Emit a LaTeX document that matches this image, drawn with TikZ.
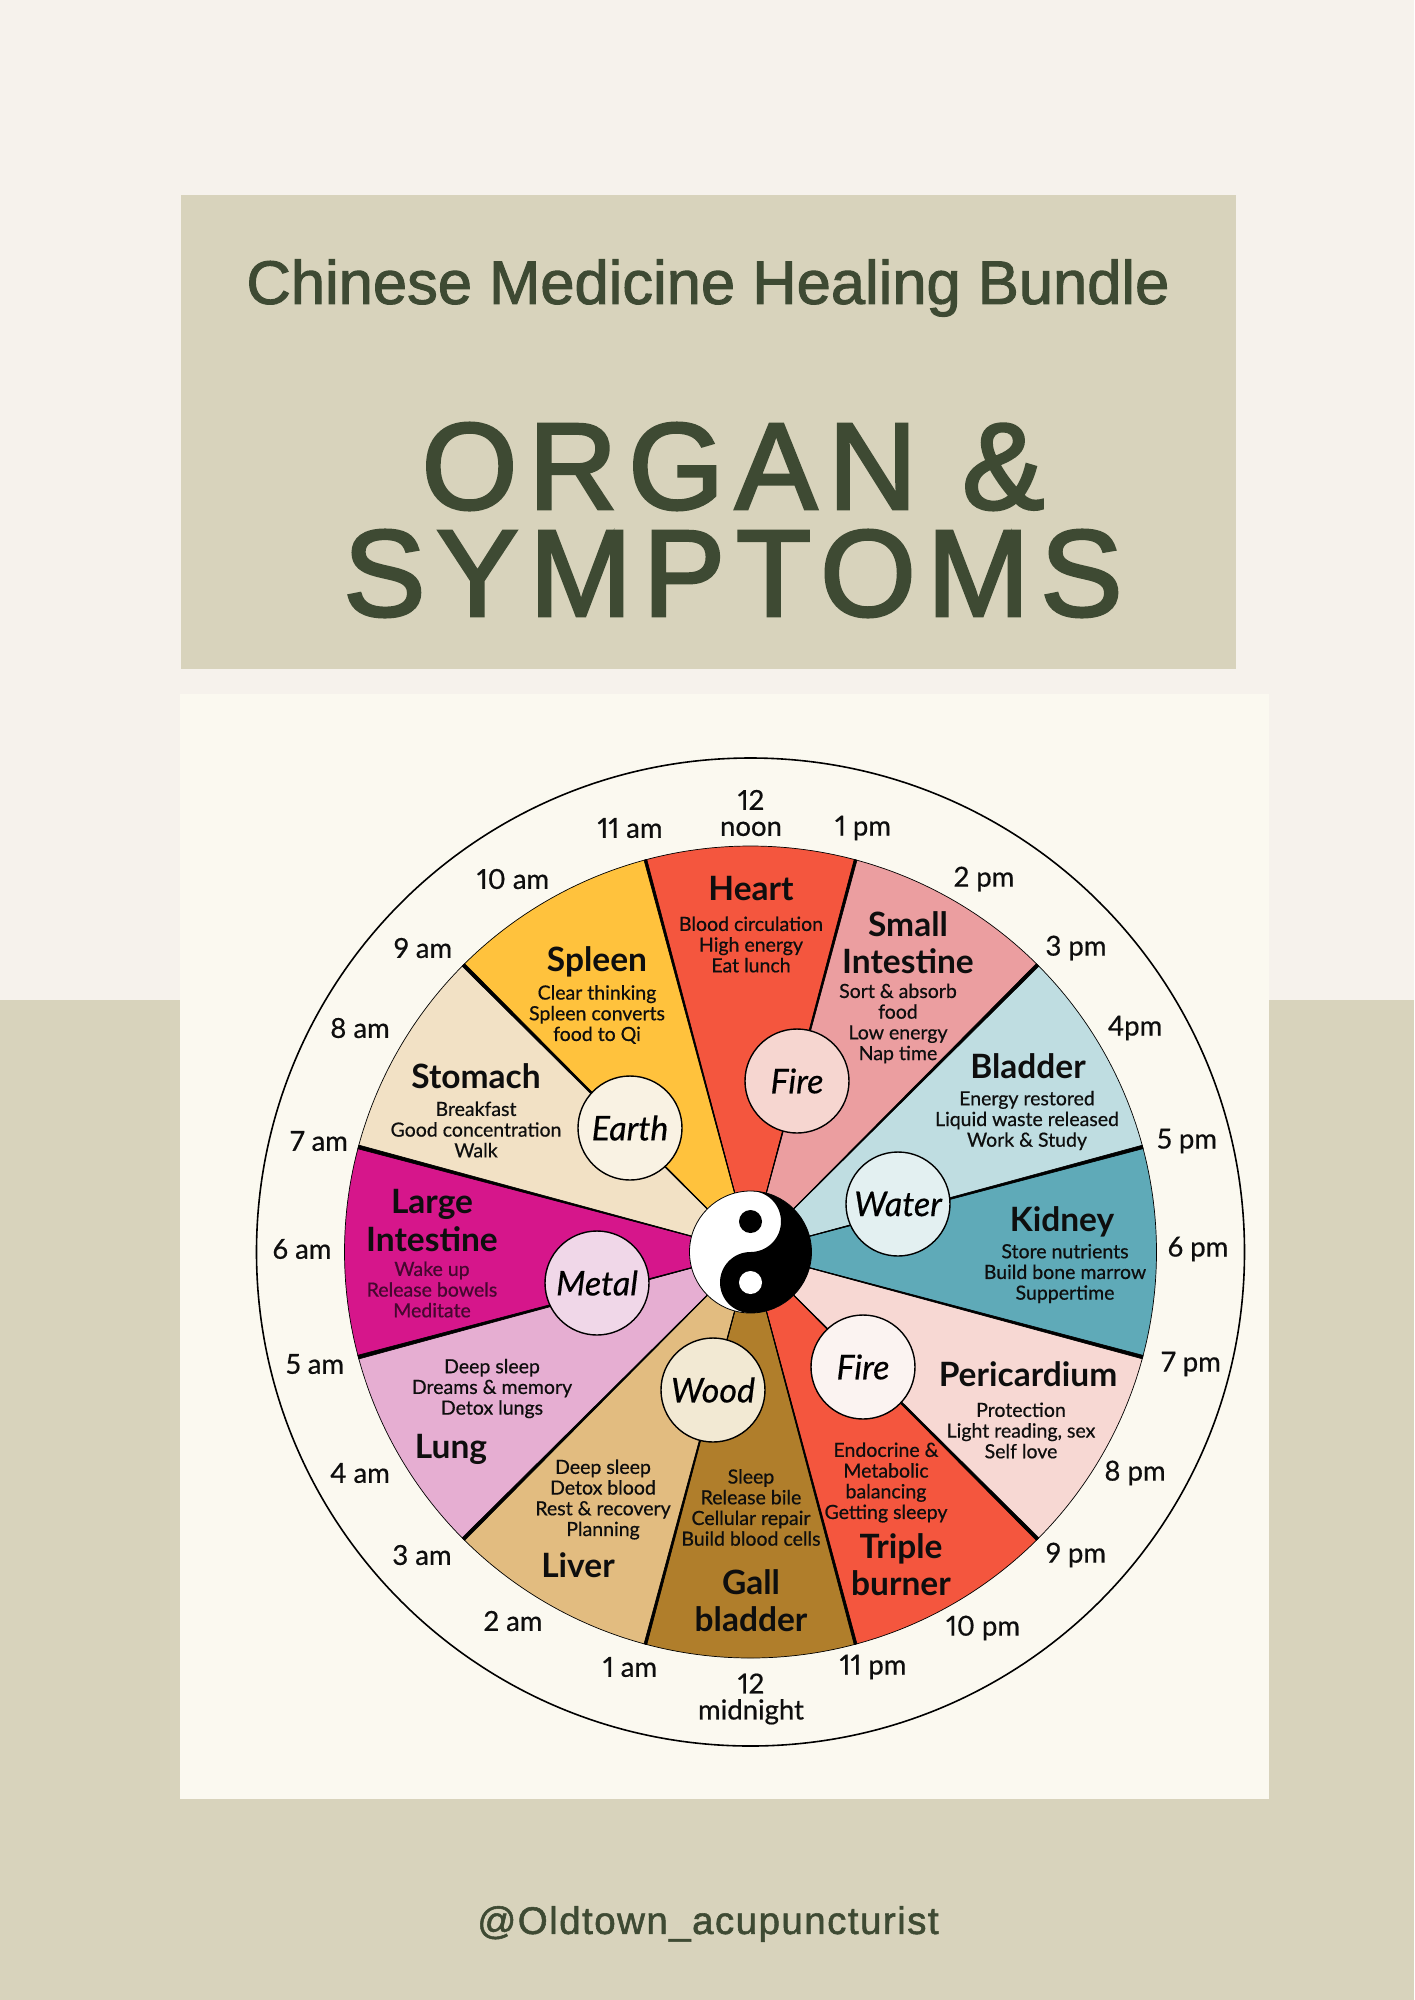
\documentclass[tikz,border=0pt]{standalone}
\usepackage{fontspec}
\setmainfont[Numbers=Proportional]{Lato}
\newfontfamily\headfont{Liberation Sans}
\definecolor{pagetop}{HTML}{F6F2EC}
\definecolor{pagelow}{HTML}{D8D3BC}
\definecolor{panel}{HTML}{FBF9F0}
\definecolor{olive}{HTML}{3E4A33}
\definecolor{cHeart}{HTML}{F4563E}
\definecolor{cSmall}{HTML}{EB9EA0}
\definecolor{cBladder}{HTML}{BFDDE1}
\definecolor{cKidney}{HTML}{5FAAB8}
\definecolor{cPeri}{HTML}{F7D8D3}
\definecolor{cGall}{HTML}{B07E2B}
\definecolor{cLiver}{HTML}{E2BC80}
\definecolor{cLung}{HTML}{E6AED2}
\definecolor{cLarge}{HTML}{D6168B}
\definecolor{cStomach}{HTML}{F2E1C5}
\definecolor{cSpleen}{HTML}{FFC23D}
\definecolor{ink}{HTML}{0E0E0E}
\definecolor{inkMag}{HTML}{45082F}
\tikzset{
  hour/.style={font=\fontsize{27.5}{26}\selectfont\addfontfeature{FakeBold=0.6},text=ink,align=center,inner sep=0pt,yshift=-2pt},
  organ/.style={font=\fontsize{33.5}{37.6}\selectfont\bfseries,text=ink,align=center,inner sep=0pt,yshift=-1.5pt},
  note/.style={font=\fontsize{19.5}{20.7}\selectfont\addfontfeature{FakeBold=0.6},text=ink,align=center,inner sep=0pt,yshift=-1.5pt},
  element/.style={circle,draw=black,line width=1.4pt,minimum size=104pt,inner sep=0pt,font=\fontsize{34}{34}\selectfont\itshape\addfontfeature{FakeBold=0.5},text=black},
  headline/.style={text=olive,inner sep=0pt},
}
\begin{document}
\begin{tikzpicture}[x=1pt,y=-1pt]
\useasboundingbox (0,0) rectangle (1414,2000);
\fill[pagetop] (0,0) rectangle (1414,1000);
\fill[pagelow] (0,1000) rectangle (1414,2000);
\fill[pagelow] (181,195) rectangle (1236,669);
\fill[panel] (180,694) rectangle (1269,1799);
\node[headline,font=\headfont\fontsize{61.5}{61.5}\selectfont\addfontfeature{FakeBold=1.6}] (t1) at (708,288) {Chinese Medicine Healing Bundle};
\node[headline,align=center,font=\headfont\fontsize{123}{107}\selectfont\addfontfeature{FakeBold=2.4,LetterSpace=9}] (t2) at (733,520) {ORGAN \&\\SYMPTOMS};
\node[headline,font=\headfont\fontsize{38.5}{38.5}\selectfont\addfontfeature{FakeBold=1.4,LetterSpace=3.8}] (t4) at (708,1924) {@Oldtown\_acupuncturist};
\begin{scope}[shift={(750.5,1252)},yscale=-1]
  \draw[black,line width=1.6pt] (0,0) circle (494);
  \foreach \a/\c in {75/cHeart,45/cSmall,15/cBladder,-15/cKidney,-45/cPeri,-75/cHeart,-105/cGall,-135/cLiver,-165/cLung,-195/cLarge,-225/cStomach,-255/cSpleen}{
    \filldraw[fill=\c,draw=black,line width=.7pt] (0,0) -- (\a:406) arc[start angle=\a,delta angle=30,radius=406] -- cycle;
  }
  \foreach \a/\w in {165/.27,195/.27,135/.25,225/.25,45/.25,315/.25,15/.25,345/.25,75/.2,105/.2,255/.2,285/.2}{
    \filldraw[black,line width=.6pt] (\a-\w:406) -- (\a+\w:406) -- (0,0) -- cycle;
  }
  % yin-yang: white lobe on top with black eye, black lobe below with white eye
  \filldraw[fill=white,draw=black,line width=.8pt] (0,0) circle (61);
  \fill[black] (0,61) arc[start angle=90,end angle=-90,radius=61] arc[start angle=270,end angle=90,radius=30.5] arc[start angle=-90,end angle=90,radius=30.5] -- cycle;
  \fill[black] (0,30.5) circle (11.5);
  \fill[white] (0,-30.5) circle (11.5);
\end{scope}
\node[element,fill={rgb,255:red,246;green,214;blue,208}] (fireA) at (797,1081) {Fire};
\node[element,fill={rgb,255:red,249;green,242;blue,227}] (earth) at (630,1128) {Earth};
\node[element,fill={rgb,255:red,227;green,240;blue,241}] (water) at (898,1204) {Water};
\node[element,fill={rgb,255:red,240;green,215;blue,232}] (metal) at (597,1283) {Metal};
\node[element,fill={rgb,255:red,242;green,233;blue,211}] (wood) at (713,1390) {Wood};
\node[element,fill={rgb,255:red,251;green,243;blue,241}] (fireB) at (863,1367) {Fire};
% hours
\node[hour] (h12n) at (751,811) {12\\noon};
\node[hour] (h11a) at (630,826) {11 am};
\node[hour] (h1p) at (863,826) {1 pm};
\node[hour] (h10a) at (513,877) {10 am};
\node[hour] (h2p) at (984,877) {2 pm};
\node[hour] (h9a) at (423,946) {9 am};
\node[hour] (h3p) at (1076,946) {3 pm};
\node[hour] (h8a) at (360,1026) {8 am};
\node[hour] (h4p) at (1135,1026) {4pm};
\node[hour] (h7a) at (319,1139) {7 am};
\node[hour] (h5p) at (1187,1139) {5 pm};
\node[hour] (h6a) at (302,1247) {6 am};
\node[hour] (h6p) at (1198,1247) {6 pm};
\node[hour] (h5a) at (315,1362) {5 am};
\node[hour] (h7p) at (1191,1362) {7 pm};
\node[hour] (h4a) at (360,1471) {4 am};
\node[hour] (h8p) at (1135,1471) {8 pm};
\node[hour] (h3a) at (422,1553) {3 am};
\node[hour] (h9p) at (1076,1553) {9 pm};
\node[hour] (h2a) at (513,1619) {2 am};
\node[hour] (h10p) at (983,1626) {10 pm};
\node[hour] (h1a) at (630,1665) {1 am};
\node[hour] (h11p) at (873,1665) {11 pm};
\node[hour] (h12m) at (751,1697) {12\\midnight};
% organs
\node[organ] (oHeart) at (751,887) {Heart};
\node[note] (nHeart) at (751,943) {Blood circulation\\High energy\\Eat lunch};
\node[organ] (oSmall) at (908,941) {Small\\Intestine};
\node[note] (nSmall) at (898,1022) {Sort \& absorb\\food\\Low energy\\Nap time};
\node[organ] (oSpleen) at (597,960) {Spleen};
\node[note] (nSpleen) at (597,1013) {Clear thinking\\Spleen converts\\food to Qi};
\node[organ] (oStomach) at (476,1075) {Stomach};
\node[note] (nStomach) at (476,1128) {Breakfast\\Good concentration\\Walk};
\node[organ] (oBladder) at (1028,1065) {Bladder};
\node[note] (nBladder) at (1027,1119) {Energy restored\\Liquid waste released\\Work \& Study};
\node[organ] (oKidney) at (1062,1220) {Kidney};
\node[note] (nKidney) at (1065,1272) {Store nutrients\\Build bone marrow\\Suppertime};
\node[organ] (oLarge) at (432,1219) {Large\\Intestine};
\node[note,text=inkMag] (nLarge) at (432,1288) {Wake up\\Release bowels\\Meditate};
\node[organ] (oLung) at (451,1448) {Lung};
\node[note] (nLung) at (492,1387) {Deep sleep\\Dreams \& memory\\Detox lungs};
\node[organ] (oLiver) at (578,1564) {Liver};
\node[note] (nLiver) at (603,1498) {Deep sleep\\Detox blood\\Rest \& recovery\\Planning};
\node[organ] (oGall) at (751,1599) {Gall\\bladder};
\node[note] (nGall) at (751,1506) {Sleep\\Release bile\\Cellular repair\\Build blood cells};
\node[organ] (oTriple) at (901,1563) {Triple\\burner};
\node[note] (nTriple) at (886,1481) {Endocrine \&\\Metabolic\\balancing\\Getting sleepy};
\node[organ] (oPeri) at (1028,1373) {Pericardium};
\node[note] (nPeri) at (1021,1429) {Protection\\Light reading, sex\\Self love};
\end{tikzpicture}
\end{document}
